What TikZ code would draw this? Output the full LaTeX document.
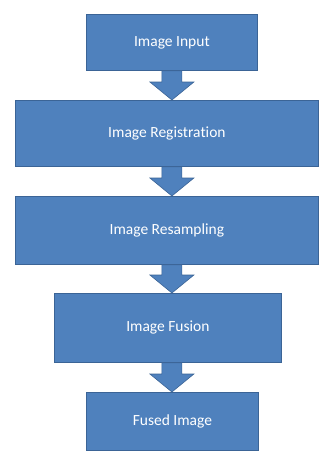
\documentclass[tikz,border=0pt]{standalone}
\usepackage{fontspec}
\setmainfont{Carlito}[Ligatures=NoCommon]
\usetikzlibrary{calc}
\definecolor{boxblue}{HTML}{4F81BD}
\definecolor{boxedge}{HTML}{3B6496}
\tikzset{
  stepbox/.style={draw=boxedge, line width=0.8pt, fill=boxblue, text=white,
    font=\fontsize{15.5}{18}\selectfont, inner sep=0pt, anchor=north west},
  blockarrow/.style={draw=boxedge, line width=0.6pt, fill=boxblue}
}
\newcommand{\blockarr}[2]{%
  \path[blockarrow] let \p1=(#1.south -| in.south), \p2=(#2.north -| in.south) in
    (\x1-10pt,\y1) -- (\x1-10pt,\y2+18pt) -- (\x1-22pt,\y2+18pt) -- (\x1,\y2)
    -- (\x1+22pt,\y2+18pt) -- (\x1+10pt,\y2+18pt) -- (\x1+10pt,\y1) -- cycle;}
\begin{document}
\begin{tikzpicture}[x=1pt,y=1pt]
\useasboundingbox[fill=white] (0,0) rectangle (320,-451);
\node[stepbox, minimum width=171pt, minimum height=56pt] (in) at (86,-14) {Image Input};
\node[stepbox, minimum width=303pt, minimum height=66pt] (reg) at (15,-100) {Image Registration};
\node[stepbox, minimum width=303pt, minimum height=68pt] (res) at (15,-196) {Image Resampling};
\node[stepbox, minimum width=227pt, minimum height=69pt] (fus) at (54,-293) {Image Fusion};
\node[stepbox, minimum width=172pt, minimum height=58pt] (out) at (86,-392) {Fused Image};
\blockarr{in}{reg}
\blockarr{reg}{res}
\blockarr{res}{fus}
\blockarr{fus}{out}
\end{tikzpicture}
\end{document}
